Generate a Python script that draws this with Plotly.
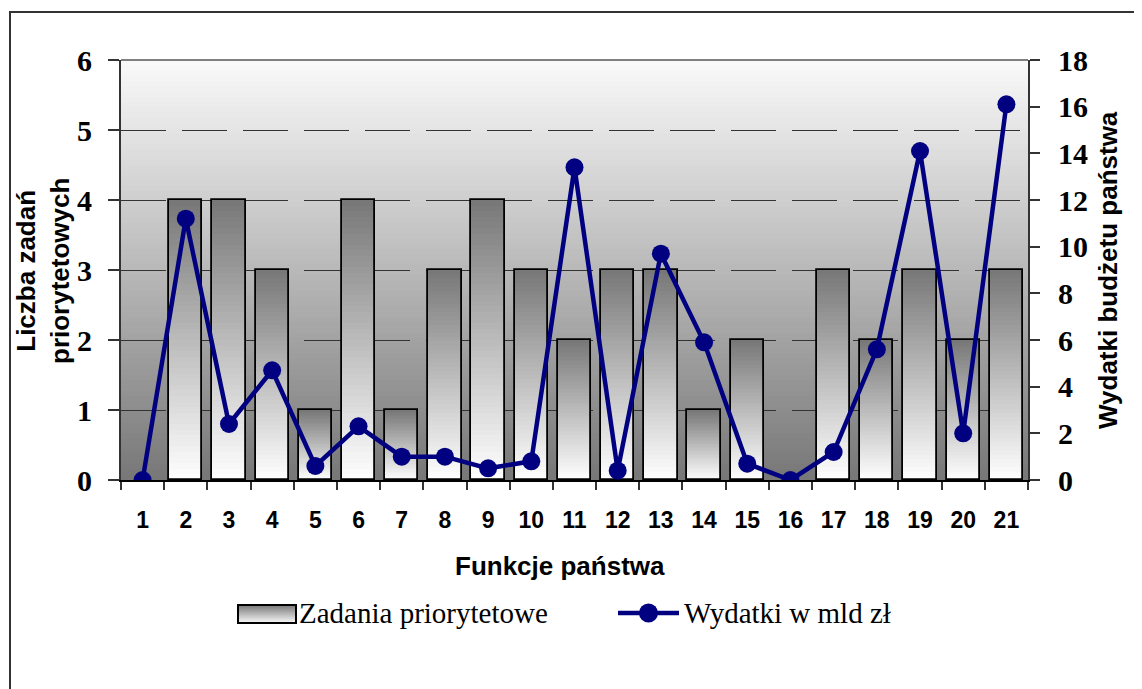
import plotly.graph_objects as go

# ---- data ----
categories = [str(i) for i in range(1, 22)]
zadania = [0, 4, 4, 3, 1, 4, 1, 3, 4, 3, 2, 3, 3, 1, 2, 0, 3, 2, 3, 2, 3]
wydatki = [0.0, 11.2, 2.4, 4.7, 0.6, 2.3, 1.0, 1.0, 0.5, 0.8, 13.4, 0.4, 9.7, 5.9,
           0.7, 0.0, 1.2, 5.6, 14.1, 2.0, 16.1]
y_left_ticks = [0, 1, 2, 3, 4, 5, 6]
y_right_ticks = [0, 2, 4, 6, 8, 10, 12, 14, 16, 18]

W, H = 1142, 689
OFF = 8  # page body margin
PL, PR, PT, PB = 121, 1028, 60, 480  # screen pixel positions of the plot area


def px(xp):
    return (xp - PL) / (PR - PL)


def py(yp):
    return (PB - yp) / (PB - PT)


def gray(v):
    v = int(round(v))
    return f"rgb({v},{v},{v})"


fig = go.Figure()

# gradient bars: stacked slices per bar
N = 50
for k in range(N):
    t = (k + 0.5) / N
    col = gray(255 - t * (255 - 119))
    fig.add_trace(go.Bar(
        x=categories, y=[v / N for v in zadania], base=[v * k / N for v in zadania],
        marker=dict(color=col, line=dict(width=0)), width=0.77,
        showlegend=False, hoverinfo="skip"))
# outlines (zero-height bars get no outline)
fig.add_trace(go.Bar(
    x=categories, y=[v if v else None for v in zadania], width=0.77,
    name="Zadania priorytetowe",
    marker=dict(color="rgba(0,0,0,0)", line=dict(color="black", width=1.8)),
    showlegend=False))

fig.add_trace(go.Scatter(
    x=categories, y=wydatki, yaxis="y2", mode="lines+markers",
    name="Wydatki w mld zł",
    line=dict(color="#000080", width=4.5),
    marker=dict(color="#000080", size=18),
    showlegend=False))

shapes = []
# plot background gradient
M = 80
for k in range(M):
    t0, t1 = k / M, (k + 1) / M
    tc = (k + 0.5) / M
    shapes.append(dict(type="rect", xref="x domain", yref="y domain",
                       x0=0, x1=1, y0=t0, y1=t1 + 0.002, layer="below",
                       fillcolor=gray(119 + tc * (250 - 119)), line=dict(width=0)))
# top border of plot area
shapes.append(dict(type="line", xref="paper", yref="paper", x0=0, x1=1, y0=1, y1=1,
                   line=dict(color="#808080", width=2)))
# outer frame
shapes.append(dict(type="rect", xref="paper", yref="paper",
                   x0=px(10), x1=px(1160), y0=py(12), y1=py(720),
                   line=dict(color="#333333", width=2), fillcolor="rgba(0,0,0,0)"))
# legend: bar symbol
L = 18
lx0, lx1, ly0, ly1 = 238, 296, 605, 623
for k in range(L):
    t = (k + 0.5) / L
    yy0 = ly1 - (ly1 - ly0) * k / L
    yy1 = ly1 - (ly1 - ly0) * (k + 1) / L
    shapes.append(dict(type="rect", xref="paper", yref="paper",
                       x0=px(lx0), x1=px(lx1), y0=py(yy0), y1=py(yy1),
                       fillcolor=gray(250 - t * (250 - 119)), line=dict(width=0)))
shapes.append(dict(type="rect", xref="paper", yref="paper",
                   x0=px(lx0), x1=px(lx1), y0=py(ly0), y1=py(ly1),
                   line=dict(color="black", width=2), fillcolor="rgba(0,0,0,0)"))
# legend: line symbol
shapes.append(dict(type="line", xref="paper", yref="paper",
                   x0=px(618), x1=px(679), y0=py(613), y1=py(613),
                   line=dict(color="#000080", width=4.5)))
shapes.append(dict(type="circle", xref="paper", yref="paper",
                   x0=px(639), x1=px(658), y0=py(603.5), y1=py(622.5),
                   fillcolor="#000080", line=dict(color="#000080", width=0)))

annotations = [
    dict(text="Zadania priorytetowe", x=px(297), y=py(613), xref="paper", yref="paper",
         xanchor="left", yanchor="middle", showarrow=False,
         font=dict(family="Liberation Serif", size=29, color="black")),
    dict(text="Wydatki w mld zł", x=px(682), y=py(613), xref="paper", yref="paper",
         xanchor="left", yanchor="middle", showarrow=False,
         font=dict(family="Liberation Serif", size=29, color="black")),
    dict(text="Funkcje państwa", x=px(560), y=py(566), xref="paper", yref="paper",
         xanchor="center", yanchor="middle", showarrow=False,
         font=dict(family="Liberation Sans", size=26, color="black", weight="bold")),
    dict(text="Liczba zadań<br>priorytetowych", x=px(43), y=py(271), xref="paper", yref="paper",
         xanchor="center", yanchor="middle", showarrow=False, textangle=-90,
         font=dict(family="Liberation Sans", size=26, color="black", weight="bold")),
    dict(text="Wydatki budżetu państwa", x=px(1108), y=py(270), xref="paper", yref="paper",
         xanchor="center", yanchor="middle", showarrow=False, textangle=-90,
         font=dict(family="Liberation Sans", size=26, color="black", weight="bold")),
]

fig.update_layout(
    width=W, height=H,
    margin=dict(l=PL - OFF, r=W - (PR - OFF), t=PT - OFF, b=H - (PB - OFF), pad=0),
    paper_bgcolor="white", plot_bgcolor="white",
    barmode="overlay", bargap=0,
    shapes=shapes, annotations=annotations,
    xaxis=dict(type="category", range=[-0.5, 20.5], tickson="boundaries",
               ticks="outside", ticklen=8, tickcolor="#333333", tickwidth=1.5,
               showline=True, linecolor="black", linewidth=2,
               showgrid=False, ticklabelstandoff=18,
               tickfont=dict(family="Liberation Sans", size=23, color="black", weight="bold")),
    yaxis=dict(range=[0, 6], tickvals=y_left_ticks, ticks="outside", ticklen=11,
               tickcolor="#333333", tickwidth=1.5,
               showline=True, linecolor="#333333", linewidth=2,
               showgrid=True, gridcolor="#333333", gridwidth=1, griddash="45px,16px",
               zeroline=False, ticklabelstandoff=10,
               tickfont=dict(family="Liberation Serif", size=30, color="black", weight="bold")),
    yaxis2=dict(range=[0, 18], tickvals=y_right_ticks, overlaying="y", side="right",
                ticks="outside", ticklen=10, tickcolor="#333333", tickwidth=1.5,
                showline=True, linecolor="#333333", linewidth=2,
                showgrid=False, zeroline=False, ticklabelstandoff=12,
                tickfont=dict(family="Liberation Serif", size=30, color="black", weight="bold")),
)

fig.write_html("out.html")
